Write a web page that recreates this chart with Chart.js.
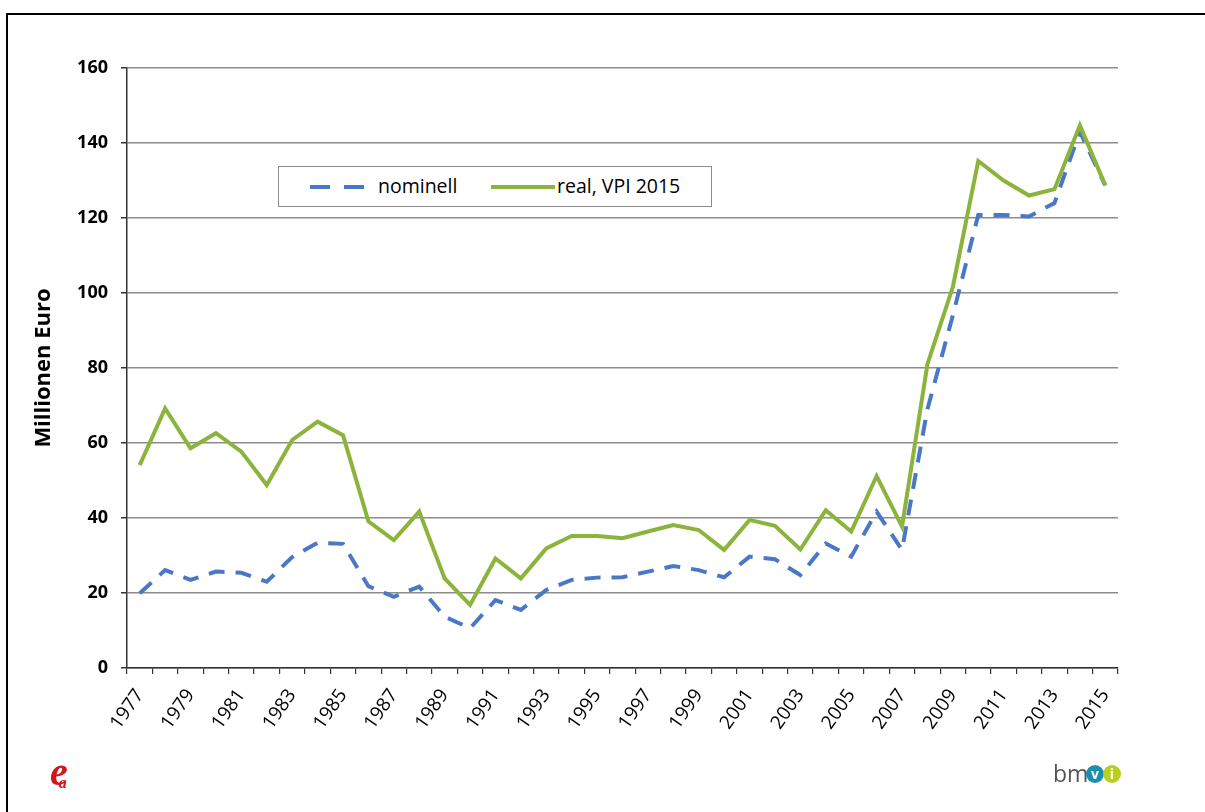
<!DOCTYPE html>
<html>
<head>
<meta charset="utf-8">
<script src="https://cdn.jsdelivr.net/npm/chart.js@4.4.1/dist/chart.umd.min.js"></script>
<style>
  body { margin: 0; background: #fff; }
  #wrap { position: relative; width: 1205px; height: 812px; overflow: hidden; }
  #frame { position: absolute; left: 6px; top: 13px; width: 1300px; height: 900px;
           border-left: 2px solid #000; border-top: 2px solid #000; }
  #legend { position: absolute; left: 278px; top: 166px; width: 432px; height: 39px;
            border: 1px solid #8c8c8c; background: #fff;
            font: 19.5px "Open Sans", sans-serif; color: #000; }
  #legend .item { position: absolute; top: 5px; }
  #legend .swatch { position: absolute; top: 18px; height: 4px; }
  #logo-e { position: absolute; left: 50px; top: 748px; font: italic bold 40px "Liberation Serif", serif; color: #d3161b; }
  #logo-e span { font-size: 16px; position: relative; left: -9px; top: 3px; }
  #logo-bm { position: absolute; left: 1053px; top: 757px; font: 23px "Open Sans", sans-serif; color: #555; }
  .dot { position: absolute; width: 18px; height: 18px; border-radius: 50%; color: #fff;
         font: bold 14px "Open Sans", sans-serif; text-align: center; line-height: 17px; }
</style>
</head>
<body>
<div id="wrap">
  <canvas id="lineChart" width="1205" height="812"></canvas>
  <div id="frame"></div>
  <div id="legend">
    <div class="swatch" style="left:31px;width:20px;background:#4a78c6"></div>
    <div class="swatch" style="left:65px;width:20px;background:#4a78c6"></div>
    <div class="item" style="left:99px">nominell</div>
    <div class="swatch" style="left:212px;width:64px;background:#8cb43c"></div>
    <div class="item" style="left:278px">real, VPI 2015</div>
  </div>
  <div id="logo-e">e<span>a</span></div>
  <div id="logo-bm">bm</div>
  <div class="dot" style="left:1086px;top:765px;background:#1d8fae">v</div>
  <div class="dot" style="left:1103px;top:765px;background:#b8cf1f">i</div>
</div>
<script>
// Data
const years = [];
for (let y = 1977; y <= 2015; y++) years.push(String(y));

const nominell = [
  19.9, 26.1, 23.5, 25.7, 25.4, 23.0, 29.6, 33.4, 33.1, 21.8,
  19.0, 21.7, 13.7, 10.6, 18.1, 15.5, 20.8, 23.5, 24.1, 24.2,
  25.7, 27.2, 26.1, 24.2, 29.7, 29.0, 24.8, 33.2, 29.7, 41.7,
  31.5, 69.0, 94.0, 120.8, 120.8, 120.4, 124.0, 143.0, 128.7
];
const realVpi2015 = [
  54.1, 69.2, 58.6, 62.6, 57.7, 48.8, 60.8, 65.7, 62.1, 39.1,
  34.1, 41.7, 23.9, 16.8, 29.2, 23.9, 31.9, 35.2, 35.2, 34.6,
  36.4, 38.1, 36.8, 31.5, 39.5, 37.9, 31.6, 42.1, 36.4, 51.2,
  37.7, 81.0, 101.6, 135.2, 130.0, 126.0, 127.7, 144.7, 128.7
];
const yTicks = [0, 20, 40, 60, 80, 100, 120, 140, 160];

// Chart
const ctx = document.getElementById("lineChart").getContext("2d");
const lineChart = new Chart(ctx, {
  type: "line",
  data: {
    labels: years,
    datasets: [
      {
        label: "nominell",
        data: nominell,
        borderColor: "#4a78c6",
        borderWidth: 4,
        borderDash: [16, 11],
        pointRadius: 0,
        tension: 0,
        order: 1
      },
      {
        label: "real, VPI 2015",
        data: realVpi2015,
        borderColor: "#8cb43c",
        borderWidth: 4,
        pointRadius: 0,
        tension: 0,
        order: 0
      }
    ]
  },
  options: {
    responsive: false,
    animation: false,
    layout: { padding: { left: 0, top: 68, right: 87, bottom: 0 } },
    plugins: { legend: { display: false }, tooltip: { enabled: false } },
    scales: {
      x: {
        offset: true,
        afterFit: (scale) => { scale.height = 144; },
        grid: { offset: true, drawOnChartArea: false, tickLength: 6, color: "#333", lineWidth: 1.2 },
        border: { color: "#333", width: 1.5 },
        ticks: {
          autoSkip: false,
          minRotation: 55,
          maxRotation: 55,
          padding: 11,
          color: "#000",
          font: { family: "Open Sans", size: 19 },
          callback: (v, i) => (i % 2 === 0 ? years[i] : "")
        }
      },
      y: {
        min: 0,
        max: 160,
        afterFit: (scale) => { scale.width = 127; },
        afterBuildTicks: (scale) => { scale.ticks = yTicks.map(v => ({ value: v })); },
        grid: { color: "#8c8c8c", lineWidth: 1.5, tickColor: "#333", tickLength: 6 },
        border: { color: "#333", width: 1.5 },
        ticks: {
          padding: 13,
          color: "#000",
          font: { family: "Open Sans", size: 18, weight: "bold" }
        },
        title: {
          display: true,
          text: "Millionen Euro",
          color: "#000",
          font: { family: "Open Sans", size: 22, weight: "bold" },
          padding: { top: 31, bottom: 0 }
        }
      }
    }
  }
});
</script>
</body>
</html>
